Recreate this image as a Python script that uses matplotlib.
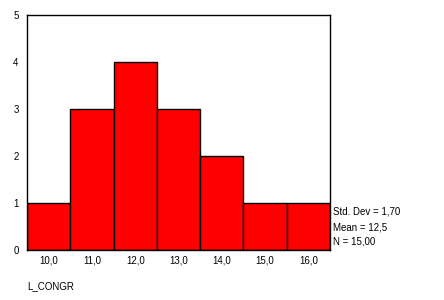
import matplotlib
matplotlib.use("Agg")
import matplotlib.pyplot as plt

# histogram of L_CONGR
bin_centers = [10.0, 11.0, 12.0, 13.0, 14.0, 15.0, 16.0]
counts = [1, 3, 4, 3, 2, 1, 1]
tick_labels = ["10,0", "11,0", "12,0", "13,0", "14,0", "15,0", "16,0"]
stats_lines = ["Std. Dev = 1,70", "Mean = 12,5", "N = 15,00"]
var_name = "L_CONGR"

plt.rcParams['font.family'] = ['Liberation Sans', 'DejaVu Sans']

fig = plt.figure(figsize=(4.44, 3.0), dpi=100)
ax = fig.add_axes([27 / 444, 1 - 250 / 300, 303 / 444, 235 / 300])

ax.bar(bin_centers, counts, width=1.0, color='#ff0000', edgecolor='black', linewidth=1)
ax.set_xlim(9.5, 16.5)
ax.set_ylim(0, 5)
ax.set_xticks(bin_centers)
ax.set_xticklabels(tick_labels)
ax.set_yticks(range(6))
ax.tick_params(length=0, labelsize=7)
ax.tick_params(axis='x', pad=4)
ax.tick_params(axis='y', pad=6)
for s in ax.spines.values():
    s.set_linewidth(1)

for i, line in enumerate(stats_lines):
    fig.text(333 / 444, 1 - (212 + 15 * i) / 300, line, fontsize=7, va='center', ha='left')

fig.text(27 / 444, 1 - 286 / 300, var_name, fontsize=7, va='center', ha='left')

plt.savefig("out.png", dpi=100)
